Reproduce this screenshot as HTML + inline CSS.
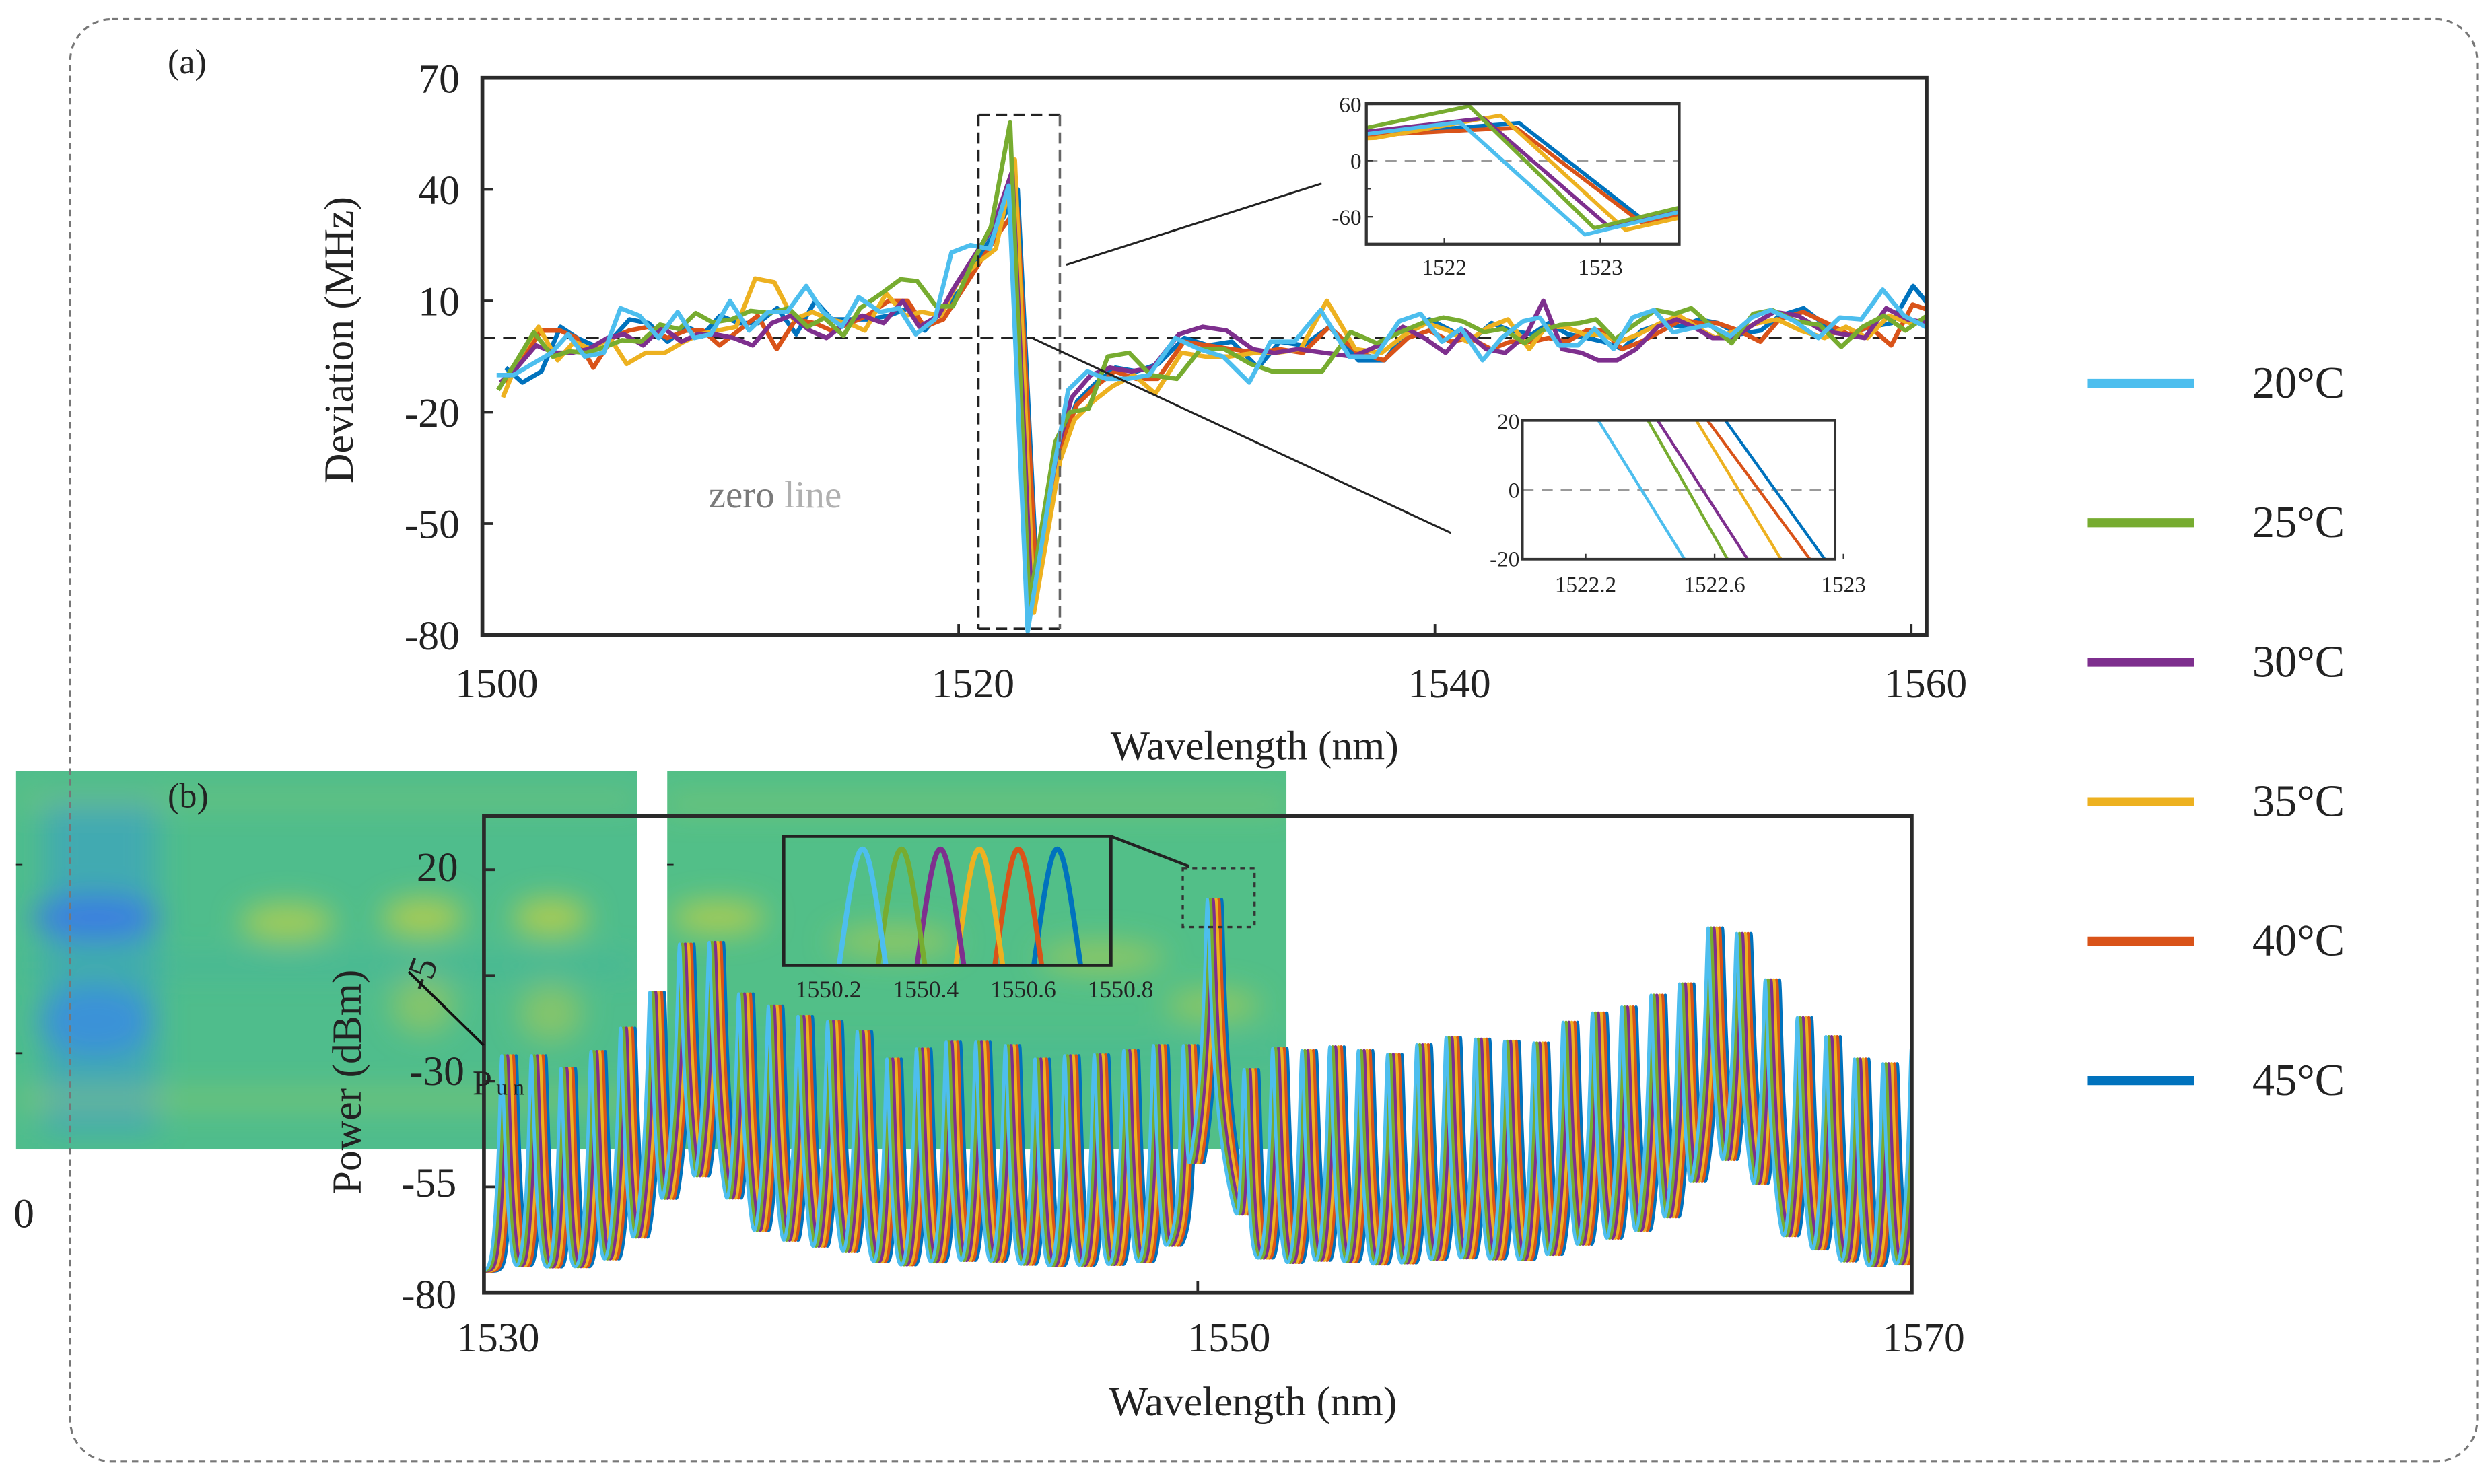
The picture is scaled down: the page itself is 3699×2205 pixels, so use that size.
<!DOCTYPE html>
<html><head><meta charset="utf-8">
<style>
html,body{margin:0;padding:0;background:#fff;width:3699px;height:2205px;overflow:hidden;}
svg{display:block;}
text{font-family:"Liberation Serif",serif;fill:#222;}
</style></head>
<body>
<svg id="fig" xmlns="http://www.w3.org/2000/svg" width="3699" height="2205" viewBox="0 0 1560 930" preserveAspectRatio="none" overflow="hidden">
<defs>
  <filter id="blur" x="-10%" y="-10%" width="120%" height="120%"><feGaussianBlur stdDeviation="9"/></filter>
  <clipPath id="clipA"><rect x="302.2" y="48.8" width="904.8" height="349.2"/></clipPath>
  <clipPath id="clipI1"><rect x="856" y="65" width="196" height="88"/></clipPath>
  <clipPath id="clipI2"><rect x="953.8" y="263.5" width="195.9" height="86.9"/></clipPath>
  <clipPath id="clipB"><rect x="303.2" y="511.5" width="894.5" height="298.6"/></clipPath>
  <clipPath id="clipIB"><rect x="491" y="524" width="205" height="81"/></clipPath>
  <clipPath id="clipH1"><rect x="10" y="483" width="389" height="237"/></clipPath>
  <clipPath id="clipH2"><rect x="418" y="483" width="388" height="237"/></clipPath>
</defs>

<g clip-path="url(#clipH1)">
  <rect x="10" y="483" width="389" height="237" fill="#4fbd8c"/>
  <g filter="url(#blur)">
    <rect x="28" y="500" width="70" height="210" fill="#3aa3c0" opacity="0.7"/>
    <ellipse cx="60" cy="575" rx="40" ry="14" fill="#3b7fe0"/>
    <ellipse cx="60" cy="640" rx="36" ry="22" fill="#3a92d8"/>
    <ellipse cx="180" cy="578" rx="30" ry="12" fill="#b8cf4c" opacity="0.8"/>
    <ellipse cx="265" cy="575" rx="26" ry="12" fill="#c3cf45" opacity="0.8"/>
    <ellipse cx="345" cy="575" rx="24" ry="12" fill="#c3cf45" opacity="0.8"/>
    <ellipse cx="265" cy="630" rx="20" ry="18" fill="#a9ca55" opacity="0.6"/>
    <ellipse cx="345" cy="635" rx="20" ry="18" fill="#a9ca55" opacity="0.6"/>
    <rect x="10" y="600" width="389" height="10" fill="#3fb2a0" opacity="0.6"/>
    <rect x="10" y="685" width="389" height="8" fill="#b8cf4c" opacity="0.5"/>
    <rect x="10" y="498" width="389" height="6" fill="#a6cc58" opacity="0.5"/>
  </g>
</g>
<g clip-path="url(#clipH2)">
  <rect x="418" y="483" width="388" height="237" fill="#52bf88"/>
  <g filter="url(#blur)">
    <ellipse cx="450" cy="575" rx="30" ry="10" fill="#c2cf44" opacity="0.8"/>
    <ellipse cx="560" cy="590" rx="40" ry="10" fill="#b5cd4c" opacity="0.6"/>
    <ellipse cx="690" cy="600" rx="40" ry="10" fill="#b5cd4c" opacity="0.6"/>
    <ellipse cx="760" cy="630" rx="30" ry="10" fill="#b5cd4c" opacity="0.6"/>
    <rect x="418" y="500" width="388" height="8" fill="#a8cc55" opacity="0.5"/>
    <rect x="418" y="655" width="388" height="10" fill="#3eb3a2" opacity="0.5"/>
  </g>
</g>
<g stroke="#222" stroke-width="1.2">
  <line x1="10" y1="542" x2="14" y2="542"/><line x1="10" y1="660" x2="14" y2="660"/>
  <line x1="418" y1="542" x2="422" y2="542"/>
</g>
<text x="15" y="769" font-size="26" text-anchor="middle">0</text>

<text x="105" y="46" font-size="22">(a)</text>
<g id="panelA"></g>

<text x="105" y="506" font-size="22">(b)</text>
<g id="panelB"></g>

<g id="legend"></g>

<rect x="44" y="12" width="1508" height="904" rx="26" ry="26" fill="none" stroke="#777" stroke-width="1.3" stroke-dasharray="4 3"/>
</svg>

<script>
const wlA = [1500.6,1501.3,1502.1,1502.9,1503.6,1504.3,1505.1,1505.8,1506.6,1507.4,
 1508.2,1508.9,1509.6,1510.4,1511.2,1512.0,1512.8,1513.6,1514.3,1515.1,
 1515.8,1516.7,1517.5,1518.2,1519.0,1519.7,1520.5,1521.3,1522.1,1522.9,
 1524.0,1524.6,1525.4,1526.2,1527.1,1528.0,1529.1,1530.1,1531.1,1532.2,
 1533.1,1534.1,1535.2,1536.4,1537.5,1538.5,1539.4,1540.3,1541.1,1542.0,
 1542.8,1543.7,1544.4,1545.2,1546.0,1546.7,1547.5,1548.3,1549.2,1550.0,
 1550.7,1551.5,1552.4,1553.3,1554.1,1555.1,1556.1,1557.0,1557.9,1558.8,
 1559.7,1560.6];
const dev20 = [-10,-10,-7,-4,1,-5,-4,8,6,0,7,0,1,10,2,7,7,14,7,3,11,7,8,1,5,23,25,24,41,-79,
 -35,-14,-9,-11,-11,-10,0,-3,-5,-12,-1,-1,7.5,-5,-5,4.5,6.5,-1,2.5,-6,0,4.5,5.5,-2,-2,2.5,-3,5.5,7.5,1.5,2.5,3.5,0.5,5.5,7.5,4.5,0,5.5,5,13,6,3];
const dev25 = [-14,-7,1.5,-5,-3.6,-4,-2.4,-0.6,-1,3.6,2.4,6.7,4.2,5,7.3,6.7,8,3,5.4,0.6,8,12,15.8,15.3,8.5,8.5,20,30,58,-72,
 -28,-20,-19,-5,-4,-10,-11,-3,-3,-7,-9,-9,-9,1.6,-1.4,1.6,4,5.5,4.5,1.6,2.5,-1.4,2,3.5,4,5,-0.4,3.5,7.5,6.5,8,3.5,-1.4,6.5,7.5,4.5,3.5,-2.4,3,6,2,6];
const dev30 = [-12,-8,-2,-4,-4,-3,0,1,-2,3,-1,1,1,0,-2,4,6,2,0,4,6,4,10,3,6,14,22,30,45,-70,
 -30,-16,-10,-8,-9,-8,1,3,2,-3,-4,-3,-4,-5,-2,3,0,-4,2,-3,-4,1,10,-3,-4,-6,-6,-3,3,5,3,0,0,4,7,6,2,1,0,8,5,4];
const dev35 = [-16,-5,3,-6,-1,-3,0,-7,-4,-4,-1,1,2,3,16,15,5,7,5,4,2,12,6,7,6,15,20,24,48,-74,
 -33,-22,-17,-13,-10,-15,-4,-5,-5,-4,-4,-3,10,-3,-4,1,4,2,-1,3,5,-3,3,3,1,1,-1,1,4,6,3,0,2,4,5,2,0,3,0,6,4,5];
const dev40 = [-12,-6,2,2,0,-8,0,2,3,0,2,2,-2,2,6,-3,5,4,2,4,6,10,10,3,5,12,20,28,35,-66,
 -28,-18,-13,-9,-11,-11,-1,-2,-3,-4,-3,-4,3,-4,-6,0,2,-1,0,-3,-1,-1,0,-1,2,2,-3,-1,2,5,4,4,2,-1,5,7,4,1,3,-2,9,7];
const dev45 = [-8,-12,-9,3,0,-2,0,5,4,-1,3,1,6,4,4,8,1,10,5,5,5,6,8,2,8,13,22,30,40,-64,
 -27,-17,-12,-8,-9,-7,0,-2,-1,-8,-1,-2,3,-6,-6,2,5,2,-1,4,2,1,4,1,0,-1,-3,2,4,3,5,4,1,2,6,8,3,1,3,4,14,7];
const seriesNames = ["20°C","25°C","30°C","35°C","40°C","45°C"];
const seriesColors = ["#4DBEEE","#77AC30","#7E2F8E","#EDB120","#D95319","#0072BD"];
const shiftA = [0,0.06,0.15,0.26,0.36,0.38];
const ticksAY = [70,40,10,-20,-50,-80];
const ticksAX = [1500,1520,1540,1560];

const combWl = [1530.5,1531.33,1532.16,1533.0,1533.83,1534.65,1535.48,1536.31,1537.14,1537.97,
 1538.8,1539.63,1540.46,1541.29,1542.12,1542.95,1543.78,1544.61,1545.44,1546.27,
 1547.1,1547.93,1548.76,1549.6,1550.27,
 1551.3,1552.1,1552.92,1553.7,1554.5,1555.32,1556.14,1556.96,1557.78,1558.6,1559.42,1560.24,
 1561.06,1561.88,1562.7,1563.5,1564.3,1565.1,1565.9,1566.8,1567.6,1568.4,1569.2,1570.0];
const combPk = [-24,-24,-27,-23,-17.5,-9,2.4,2.8,-9.4,-12.3,-14.7,-15.9,-18.3,-24.8,-22.4,-20.8,-20.8,-21.6,-24.8,-24,-23.8,-22.8,-21.6,-21.6,12.9,
 -27.3,-22.3,-22.8,-21.9,-22.8,-23.7,-21.4,-19.7,-20.1,-20.6,-21,-16.1,-13.9,-12.5,-9.7,-7,6.2,4.9,-6.1,-15,-19.5,-24.8,-25.9,-21.9];
const shiftB = [0,0.08,0.16,0.24,0.32,0.40];
const noiseFloor = -75;
const ticksBY = [20,-5,-30,-55,-80];
const ticksBX = [1530,1550,1570];
const ticksIBX = [1550.2,1550.4,1550.6,1550.8];

const NS = "http://www.w3.org/2000/svg";
function mk(tag, attrs, parent){ const e=document.createElementNS(NS,tag); for(const k in attrs) e.setAttribute(k,attrs[k]); if(parent) parent.appendChild(e); return e; }
function txt(parent,x,y,s,size,anchor,fill){ const t=mk("text",{x:x,y:y,"font-size":size,"text-anchor":anchor||"middle"},parent); if(fill) t.setAttribute("fill",fill); t.textContent=s; return t; }

const devs=[dev20,dev25,dev30,dev35,dev40,dev45];
const order=[5,4,3,2,1,0];

const A=document.getElementById("panelA");
const xa=w=>302.2+(w-1500)*14.92, ya=v=>211.8-v*2.327;
let zl=mk("line",{x1:302.2,y1:ya(0),x2:1207,y2:ya(0),stroke:"#222","stroke-width":1.4,"stroke-dasharray":"8 5"},A);


let gA=mk("g",{"clip-path":"url(#clipA)"},A);


function drawDev(g,fx,fy,sw,lo,hi){
  order.forEach(s=>{
    const pts=[];
    const n=wlA.length;
    wlA.forEach((w,i)=>{
      const nextW = (i<n-1 ? wlA[i+1] : w) + shiftA[s];
      const prevW = (i>0 ? wlA[i-1] : w) + shiftA[s];
      if(nextW>=lo && prevW<=hi) pts.push(fx(w+shiftA[s]).toFixed(2)+","+fy(devs[s][i]).toFixed(2));
    });
    const p=mk("polyline",{points:pts.join(" "),fill:"none",stroke:seriesColors[s],"stroke-width":sw,"stroke-linejoin":"round"},g);
    
    
  });
}
drawDev(gA,xa,ya,2.8,1490,1570);
let fa=mk("rect",{x:302.2,y:48.8,width:904.8,height:349.2,fill:"none",stroke:"#2a2a2a","stroke-width":2.4},A);


ticksAY.forEach(v=>{
  mk("line",{x1:302.2,y1:ya(v),x2:309,y2:ya(v),stroke:"#2a2a2a","stroke-width":1.6},A);
  const t=txt(A,288,ya(v)+9,String(v),26,"end");
  
  
});
ticksAX.forEach(v=>{
  mk("line",{x1:xa(v),y1:398,x2:xa(v),y2:391,stroke:"#2a2a2a","stroke-width":1.6},A);
  const t=txt(A,xa(v)+9,437,String(v),26,"middle");
  
  
});
let yl=txt(A,0,0,"Deviation (MHz)",26,"middle");
yl.setAttribute("transform","translate(221,213) rotate(-90)");


let xl=txt(A,786,476,"Wavelength (nm)",26,"middle");


let zt=mk("text",{x:444,y:318,"font-size":24},A);


zt.innerHTML='<tspan fill="#7a7a7a">zero </tspan><tspan fill="#b0b0b0">line</tspan>';
mk("line",{x1:613,y1:72,x2:613,y2:394,stroke:"#222","stroke-width":1.5,"stroke-dasharray":"7 4"},A);
mk("line",{x1:613,y1:72,x2:664,y2:72,stroke:"#222","stroke-width":1.5,"stroke-dasharray":"7 4"},A);
mk("line",{x1:613,y1:394,x2:664,y2:394,stroke:"#222","stroke-width":1.5,"stroke-dasharray":"7 4"},A);
mk("line",{x1:664,y1:72,x2:664,y2:394,stroke:"#666","stroke-width":1.5,"stroke-dasharray":"7 4"},A);
mk("line",{x1:668,y1:166,x2:828,y2:115,stroke:"#222","stroke-width":1.3},A);
mk("line",{x1:647,y1:212,x2:909,y2:334,stroke:"#222","stroke-width":1.3},A);

const I1=mk("g",{},A);


const xi1=w=>904.9+(w-1522)*97.8, yi1=v=>100.6-v*0.588;
mk("rect",{x:856,y:65,width:196,height:88,fill:"#fff"},I1);
mk("line",{x1:856,y1:yi1(0),x2:1052,y2:yi1(0),stroke:"#999","stroke-width":1.2,"stroke-dasharray":"7 5"},I1);
const gi1=mk("g",{"clip-path":"url(#clipI1)"},I1);
drawDev(gi1,xi1,yi1,2.4,1521.5,1523.5);
mk("rect",{x:856,y:65,width:196,height:88,fill:"none",stroke:"#333","stroke-width":1.8},I1);
[60,0,-60].forEach(v=>{ txt(I1,853,yi1(v)+5,String(v),14,"end"); mk("line",{x1:856,y1:yi1(v),x2:860,y2:yi1(v),stroke:"#333"},I1); });
mk("line",{x1:856,y1:yi1(-30),x2:859,y2:yi1(-30),stroke:"#333"},I1);
[1522,1523].forEach(v=>{ txt(I1,xi1(v),172,String(v),14,"middle"); mk("line",{x1:xi1(v),y1:153,x2:xi1(v),y2:149,stroke:"#333"},I1); });

const I2=mk("g",{},A);


const xi2=w=>993.4+(w-1522.2)*202, yi2=v=>307-v*2.17;
mk("rect",{x:953.8,y:263.5,width:195.9,height:86.9,fill:"#fff"},I2);
mk("line",{x1:953.8,y1:yi2(0),x2:1149.7,y2:yi2(0),stroke:"#999","stroke-width":1.2,"stroke-dasharray":"7 5"},I2);
const gi2=mk("g",{"clip-path":"url(#clipI2)"},I2);
drawDev(gi2,xi2,yi2,1.8,1522.0,1523.0);
mk("rect",{x:953.8,y:263.5,width:195.9,height:86.9,fill:"none",stroke:"#333","stroke-width":1.6},I2);
[20,0,-20].forEach(v=>{ txt(I2,952,Math.min(yi2(v)+5,355),String(v),14,"end"); });
[1522.2,1522.6,1523].forEach(v=>{ txt(I2,xi2(v),371,String(v),14,"middle"); mk("line",{x1:xi2(v),y1:350.4,x2:xi2(v),y2:347,stroke:"#333"},I2); });

const B=document.getElementById("panelB");
const xb=w=>303.2+(w-1530)*22.36, yb=v=>545+(20-v)*2.65;
function specAt(w,s){
  let lin=Math.pow(10,noiseFloor/10);
  for(let k=0;k<combWl.length;k++){
    const d=(w-combWl[k]-shiftB[s])/0.045;
    if(Math.abs(d)>60) continue;
    const q=1+d*d;
    lin+=Math.pow(10,combPk[k]/10)/(q*q*q);
  }
  return 10*Math.log10(lin);
}
const gB=mk("g",{"clip-path":"url(#clipB)"},B);


order.forEach(s=>{
  const pts=[];
  for(let w=1530.0;w<=1570.0;w+=0.01){ pts.push(xb(w).toFixed(2)+","+yb(specAt(w,s)).toFixed(2)); }
  const p=mk("polyline",{points:pts.join(" "),fill:"none",stroke:seriesColors[s],"stroke-width":2.0,"stroke-linejoin":"round"},gB);
  
  
});
let fb=mk("rect",{x:303.2,y:511.5,width:894.5,height:298.6,fill:"none",stroke:"#2a2a2a","stroke-width":2.4},B);


ticksBY.forEach(v=>{ mk("line",{x1:303.2,y1:yb(v),x2:310,y2:yb(v),stroke:"#2a2a2a","stroke-width":1.6},B); });
ticksBX.forEach(v=>{ mk("line",{x1:xb(v),y1:810,x2:xb(v),y2:803,stroke:"#2a2a2a","stroke-width":1.6},B); });
const bLabels=[["20",287,552],["-30",291,680],["-55",286,750],["-80",286,820]];
bLabels.forEach(l=>{ const t=txt(B,l[1],l[2],l[0],26,"end");   });
let m5=txt(B,0,0,"-5",24,"middle"); m5.setAttribute("transform","translate(271,613) rotate(-70)");


mk("line",{x1:256,y1:609,x2:303,y2:655,stroke:"#111","stroke-width":1.6},B);
let pu=txt(B,296,686,"P",22,"start");  
let un=txt(B,311,686,"u n",14,"start","#555");  
[["1530",312],["1550",770],["1570",1205]].forEach(l=>{ const t=txt(B,l[1],847,l[0],26,"middle");   });
let pyl=txt(B,0,0,"Power (dBm)",26,"middle"); pyl.setAttribute("transform","translate(226,678) rotate(-90)");


let pxl=txt(B,785,887,"Wavelength (nm)",26,"middle");


mk("rect",{x:741,y:544,width:45,height:37,fill:"none",stroke:"#333","stroke-width":1.4,"stroke-dasharray":"3 3"},B);
mk("line",{x1:696,y1:524,x2:745,y2:543,stroke:"#222","stroke-width":1.8},B);
const IB=mk("g",{},B);


const ibMin=2.5;
const xib=w=>519+(w-1550.2)*305, yib=v=>605-(Math.max(v,ibMin)-3)*81/11;
const gib=mk("g",{"clip-path":"url(#clipIB)"},IB);
order.forEach(s=>{
  const pts=[];
  for(let w=1550.11;w<=1550.79;w+=0.002){ pts.push(xib(w).toFixed(2)+","+yib(specAt(w,s)).toFixed(2)); }
  const p=mk("polyline",{points:pts.join(" "),fill:"none",stroke:seriesColors[s],"stroke-width":3.2,"stroke-linejoin":"round"},gib);
  
  
});
mk("rect",{x:491,y:524,width:205,height:81,fill:"none",stroke:"#222","stroke-width":2},IB);
ticksIBX.forEach(v=>{ const t=txt(IB,xib(v),625,v.toFixed(1),15,"middle");   });

const L=document.getElementById("legend");
seriesNames.forEach((n,i)=>{
  const y=240.2+i*87.4;
  const ln=mk("line",{x1:1308,y1:y,x2:1374.5,y2:y,stroke:seriesColors[i],"stroke-width":5.6},L);
  
  
  const t=txt(L,1440,y+9,n,28,"middle");
  
  
});
</script>
</body></html>
